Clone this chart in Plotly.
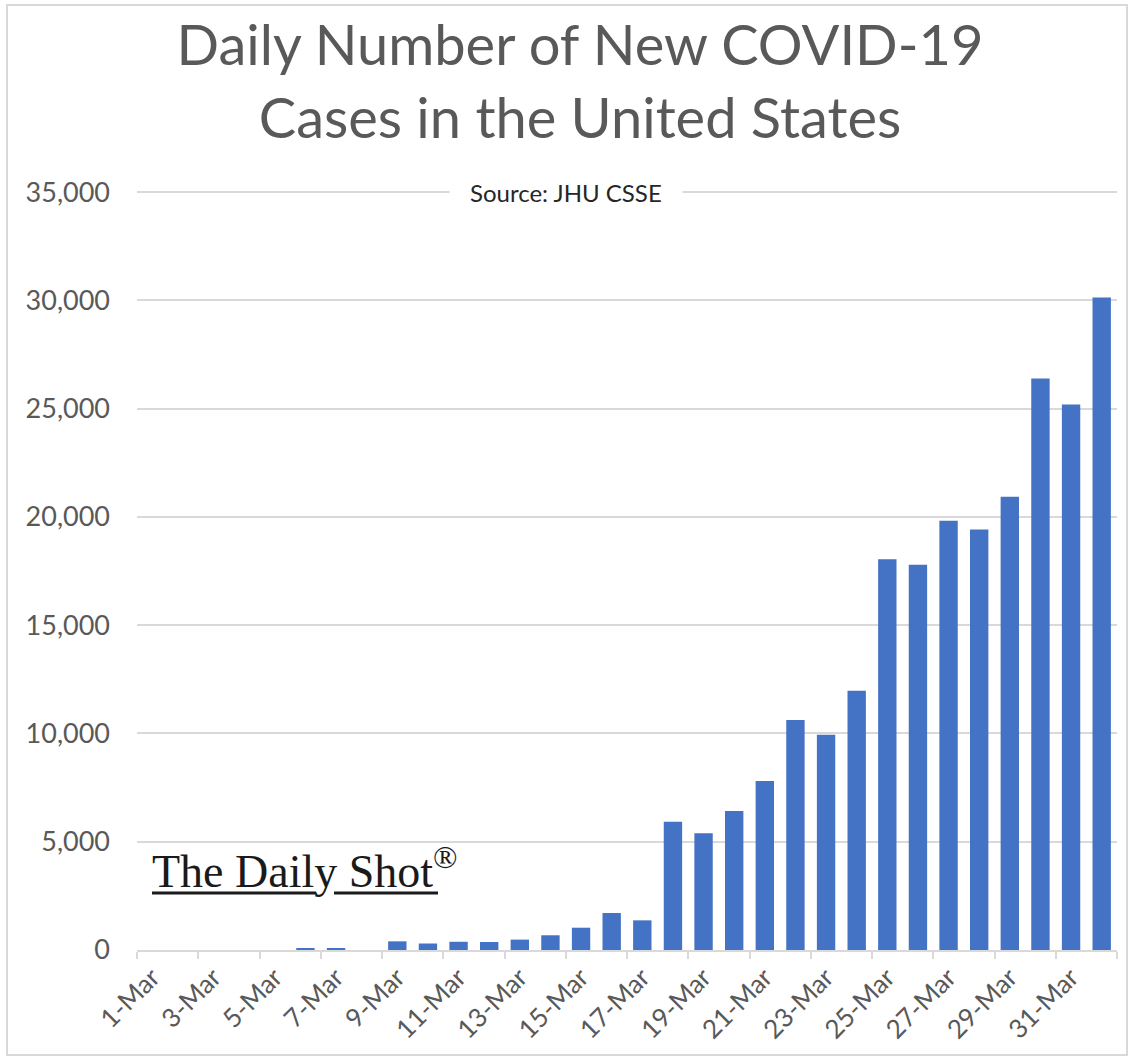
import plotly.graph_objects as go

# Daily new confirmed COVID-19 cases, United States (JHU CSSE), 1 Mar - 1 Apr 2020
dates = [
    "1-Mar", "2-Mar", "3-Mar", "4-Mar", "5-Mar", "6-Mar", "7-Mar", "8-Mar",
    "9-Mar", "10-Mar", "11-Mar", "12-Mar", "13-Mar", "14-Mar", "15-Mar", "16-Mar",
    "17-Mar", "18-Mar", "19-Mar", "20-Mar", "21-Mar", "22-Mar", "23-Mar", "24-Mar",
    "25-Mar", "26-Mar", "27-Mar", "28-Mar", "29-Mar", "30-Mar", "31-Mar", "1-Apr",
]
new_cases = [
    0, 0, 0, 0, 0, 80, 80, 0,
    400, 300, 380, 370, 480, 680, 1030, 1710,
    1370, 5920, 5390, 6420, 7800, 10620, 9940, 11970,
    18050, 17790, 19820, 19420, 20930, 26390, 25190, 30130,
]
y_ticks = [0, 5000, 10000, 15000, 20000, 25000, 30000, 35000]

BLUE = "#4472C4"
GRID = "#d9d9d9"
TEXT = "#595959"
FONT = "Lato"

idx = list(range(len(dates)))
label_idx = idx[::2]
label_text = dates[::2]
# tick marks sit on category boundaries, one every two days
boundary_ticks = [i - 0.5 for i in range(0, len(dates) + 1, 2)]

fig = go.Figure(
    go.Bar(
        x=idx,
        y=new_cases,
        marker=dict(color=BLUE, line=dict(width=0)),
        width=0.6,
        hoverinfo="skip",
    )
)

fig.update_layout(
    width=1130,
    height=1059,
    margin=dict(l=137, r=13, t=190, b=109),
    paper_bgcolor="white",
    plot_bgcolor="white",
    showlegend=False,
    title=dict(
        text="Daily Number of New COVID-19<br>Cases in the United States",
        font=dict(family=FONT, size=56, color=TEXT),
        x=580 / 1130,
        xanchor="center",
        xref="container",
        y=1 - 65 / 1059,
        yanchor="top",
        yref="container",
    ),
    xaxis=dict(
        range=[-0.5, len(dates) - 0.5],
        tickmode="array",
        tickvals=label_idx,
        ticktext=label_text,
        tickangle=-45,
        ticks="",
        tickfont=dict(family=FONT, size=26, color=TEXT),
        showgrid=False,
        showline=True,
        linecolor=GRID,
        linewidth=2,
        zeroline=False,
        minor=dict(
            tickmode="array",
            tickvals=boundary_ticks,
            ticks="outside",
            ticklen=7,
            tickwidth=1.5,
            tickcolor=GRID,
            showgrid=False,
        ),
    ),
    yaxis=dict(
        range=[0, 35100],
        tickmode="array",
        tickvals=y_ticks,
        tickformat=",",
        tickfont=dict(family=FONT, size=27, color=TEXT),
        showgrid=True,
        gridcolor=GRID,
        gridwidth=1.5,
        zeroline=False,
        showline=False,
        ticks="",
        ticklabelstandoff=26,
    ),
)

# source note breaking the top gridline
fig.add_annotation(
    text="Source: JHU CSSE",
    xref="paper", yref="y",
    x=(566 - 137) / 980, y=35000,
    xanchor="center", yanchor="middle",
    showarrow=False,
    font=dict(family=FONT, size=24, color="#262626"),
    bgcolor="white",
    borderpad=20,
)

# publisher mark
fig.add_annotation(
    text="The Daily Shot<sup>®</sup>",
    xref="paper", yref="paper",
    x=(150 - 137) / 980, y=(950 - 868) / 760,
    xanchor="left", yanchor="middle",
    showarrow=False,
    font=dict(family="Liberation Serif", size=46, color="#1a1a1a"),
)
for x0, x1 in [(152, 316), (334, 438)]:
    fig.add_shape(
        type="line", xref="paper", yref="paper",
        x0=(x0 - 137) / 980, x1=(x1 - 137) / 980,
        y0=(950 - 893) / 760, y1=(950 - 893) / 760,
        line=dict(color="#1a1a1a", width=3),
    )

# chart frame
fig.add_shape(
    type="rect", xref="paper", yref="paper",
    x0=(7 - 137) / 980, x1=(1127 - 137) / 980,
    y0=(950 - 1055) / 760, y1=(950 - 5) / 760,
    line=dict(color=GRID, width=2),
    fillcolor="rgba(0,0,0,0)",
    layer="below",
)

fig.write_html("out.html")
